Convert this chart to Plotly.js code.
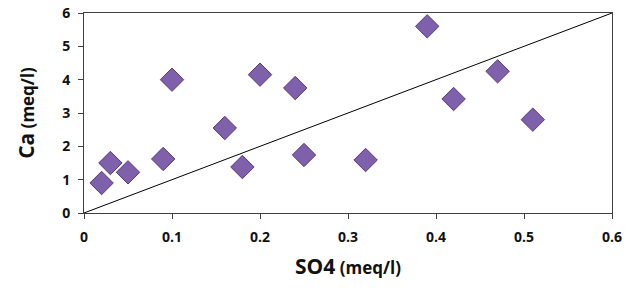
<!DOCTYPE html>
<html>
<head>
<meta charset="utf-8">
<script src="https://cdn.plot.ly/plotly-3.0.1.min.js"></script>
<style>html,body{margin:0;padding:0;background:#fff;}</style>
</head>
<body>
<div id="chart" style="width:635px;height:292px;"></div>
<script>
const so4 = [0.02, 0.03, 0.05, 0.09, 0.10, 0.16, 0.18, 0.20, 0.24, 0.25, 0.32, 0.39, 0.42, 0.47, 0.51];
const ca  = [0.90, 1.50, 1.22, 1.62, 4.00, 2.55, 1.38, 4.15, 3.75, 1.74, 1.59, 5.60, 3.42, 4.25, 2.80];
const lineX = [0, 0.6];
const lineY = [0, 6];
const xTicks = [0, 0.1, 0.2, 0.3, 0.4, 0.5, 0.6];
const xTickLabels = ['0', '0.1', '0.2', '0.3', '0.4', '0.5', '0.6'];
const yTicks = [0, 1, 2, 3, 4, 5, 6];

const traces = [
  {x: lineX, y: lineY, mode: 'lines', line: {color: '#000', width: 1}, hoverinfo: 'skip', showlegend: false},
  {x: so4, y: ca, mode: 'markers', type: 'scatter', showlegend: false,
   marker: {symbol: 'diamond', size: 18, color: '#7f60aa', line: {color: '#563b80', width: 1}}}
];

const fontFam = '"Open Sans", "DejaVu Sans", sans-serif';
const layout = {
  width: 635, height: 292,
  margin: {l: 84, r: 23, t: 13, b: 79},
  paper_bgcolor: '#fff', plot_bgcolor: '#fff',
  showlegend: false,
  xaxis: {
    range: [0, 0.6], tickvals: xTicks, ticktext: xTickLabels,
    ticks: 'outside', ticklen: 5, tickcolor: '#404040',
    ticklabelstandoff: 6,
    showline: true, mirror: true, linecolor: '#404040', linewidth: 1,
    showgrid: false, zeroline: false,
    tickfont: {family: fontFam, size: 14, color: '#111', weight: 'bold'},
    title: {text: '<span style="font-size:21px">SO4</span> (meq/l)', standoff: 17,
            font: {family: fontFam, size: 17, color: '#111', weight: 'bold'}}
  },
  yaxis: {
    range: [0, 6], tickvals: yTicks,
    ticks: 'outside', ticklen: 5, tickcolor: '#404040',
    ticklabelstandoff: 5,
    showline: true, mirror: true, linecolor: '#404040', linewidth: 1,
    showgrid: false, zeroline: false,
    tickfont: {family: fontFam, size: 14, color: '#111', weight: 'bold'},
    title: {text: '<span style="font-size:21px">Ca</span> (meq/l)', standoff: 23,
            font: {family: fontFam, size: 17, color: '#111', weight: 'bold'}}
  }
};

Plotly.newPlot('chart', traces, layout, {displayModeBar: false, staticPlot: true});
</script>
</body>
</html>
